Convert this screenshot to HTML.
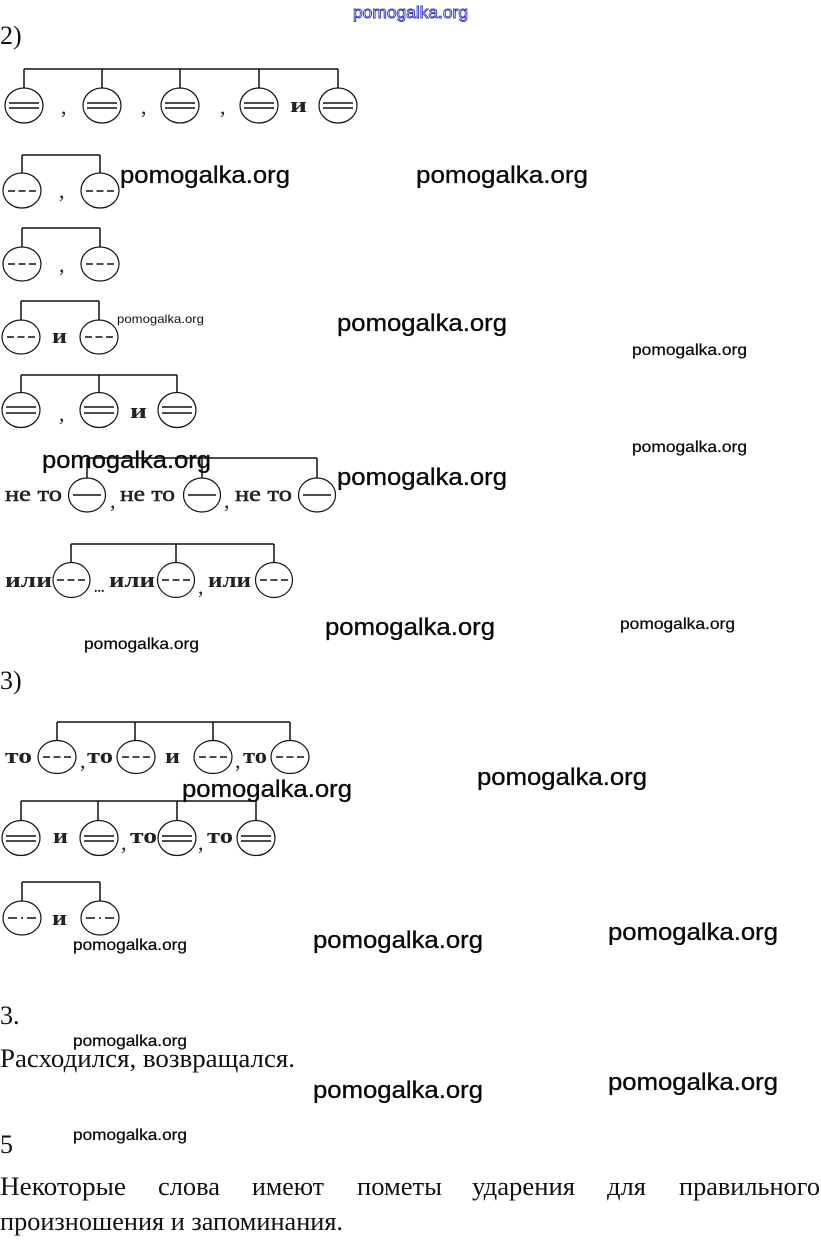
<!DOCTYPE html>
<html>
<head>
<meta charset="utf-8">
<style>
html,body{margin:0;padding:0;background:#fff;}
body{width:821px;height:1240px;overflow:hidden;}
svg{display:block;}
.wl{font-family:"Liberation Sans",sans-serif;font-size:24px;fill:#0a0a0a;stroke:#0a0a0a;stroke-width:0.35;}
.ws{font-family:"Liberation Sans",sans-serif;font-size:16px;fill:#0a0a0a;stroke:#0a0a0a;stroke-width:0.25;}
.wt{font-family:"Liberation Sans",sans-serif;font-size:12px;fill:#111;}
.sr{font-family:"Liberation Serif","Noto Serif CJK SC",serif;font-size:26px;fill:#111;}
.lb{font-family:"Liberation Serif","Noto Serif CJK SC",serif;font-size:22px;font-weight:bold;fill:#222;}
.ln2{font-family:"Liberation Serif","Noto Serif CJK SC",serif;font-size:22px;fill:#222;stroke:#222;stroke-width:0.5;}
.cm{font-family:"Liberation Serif",serif;font-size:22px;fill:#222;}
.ln{stroke:#111;stroke-width:1.5;fill:none;}
.ci{stroke:#111;stroke-width:1.2;fill:none;}
.dbl{stroke:#111;stroke-width:1.6;}
.dsh{stroke:#111;stroke-width:1.4;stroke-dasharray:7 3.5;}
</style>
</head>
<body>
<svg width="821" height="1240" viewBox="0 0 821 1240" xmlns="http://www.w3.org/2000/svg">
<rect width="821" height="1240" fill="#fff"/>

<!-- header -->
<text x="353" y="18" textLength="115" lengthAdjust="spacingAndGlyphs" style="font-family:'Liberation Sans',sans-serif;font-size:17px;fill:#fff;stroke:#3434c8;stroke-width:0.9;">pomogalka.org</text>

<text class="sr" x="0" y="44">2)</text>

<!-- Row 1 -->
<path class="ln" d="M24 69 H338 M24 69 V88 M102 69 V88 M180 69 V88 M259 69 V88 M338 69 V88"/>
<g class="ci">
<ellipse cx="24" cy="105.5" rx="19" ry="17.5"/>
<ellipse cx="102" cy="105.5" rx="19" ry="17.5"/>
<ellipse cx="180" cy="105.5" rx="19" ry="17.5"/>
<ellipse cx="259" cy="105.5" rx="19" ry="17.5"/>
<ellipse cx="338" cy="105.5" rx="19" ry="17.5"/>
</g>
<g class="dbl">
<path d="M9 103 H39 M9 108 H39"/>
<path d="M87 103 H117 M87 108 H117"/>
<path d="M165 103 H195 M165 108 H195"/>
<path d="M244 103 H274 M244 108 H274"/>
<path d="M323 103 H353 M323 108 H353"/>
</g>
<text class="cm" x="61" y="114">,</text>
<text class="cm" x="141" y="114">,</text>
<text class="cm" x="220" y="114">,</text>
<text class="lb" x="290" y="112" textLength="17" lengthAdjust="spacingAndGlyphs">и</text>

<!-- Row 2 -->
<path class="ln" d="M22 155 H100 M22 155 V173 M100 155 V173"/>
<ellipse class="ci" cx="22" cy="190.5" rx="19" ry="17.5"/>
<ellipse class="ci" cx="100" cy="190.5" rx="19" ry="17.5"/>
<path class="dsh" d="M8 191 H37 M86 191 H115"/>
<text class="cm" x="59" y="198">,</text>
<text class="wl" x="120" y="183" textLength="170" lengthAdjust="spacingAndGlyphs">pomogalka.org</text>
<text class="wl" x="416" y="183" textLength="172" lengthAdjust="spacingAndGlyphs">pomogalka.org</text>

<!-- Row 3 -->
<path class="ln" d="M22 228 H100 M22 228 V247 M100 228 V247"/>
<ellipse class="ci" cx="22" cy="264" rx="19" ry="17"/>
<ellipse class="ci" cx="100" cy="264" rx="19" ry="17"/>
<path class="dsh" d="M8 264 H37 M86 264 H115"/>
<text class="cm" x="59" y="272">,</text>

<!-- Row 4 -->
<path class="ln" d="M21 301 H99 M21 301 V320 M99 301 V320"/>
<ellipse class="ci" cx="21" cy="337" rx="19" ry="17"/>
<ellipse class="ci" cx="99" cy="337" rx="19" ry="17"/>
<path class="dsh" d="M7 337 H36 M85 337 H114"/>
<text class="lb" x="52" y="343" textLength="15" lengthAdjust="spacingAndGlyphs">и</text>
<text class="wt" x="117" y="323" textLength="87" lengthAdjust="spacingAndGlyphs">pomogalka.org</text>
<text class="wl" x="337" y="331" textLength="170" lengthAdjust="spacingAndGlyphs">pomogalka.org</text>
<text class="ws" x="632" y="355" textLength="115" lengthAdjust="spacingAndGlyphs">pomogalka.org</text>

<!-- Row 5 -->
<path class="ln" d="M21 375 H177 M21 375 V393 M99 375 V393 M177 375 V393"/>
<ellipse class="ci" cx="21" cy="410" rx="19" ry="17.5"/>
<ellipse class="ci" cx="99" cy="410" rx="19" ry="17.5"/>
<ellipse class="ci" cx="177" cy="410" rx="19" ry="17.5"/>
<g class="dbl">
<path d="M6 407 H36 M6 413 H36"/>
<path d="M84 407 H114 M84 413 H114"/>
<path d="M162 407 H192 M162 413 H192"/>
</g>
<text class="cm" x="59" y="421">,</text>
<text class="lb" x="130" y="418" textLength="17" lengthAdjust="spacingAndGlyphs">и</text>
<text class="ws" x="632" y="452" textLength="115" lengthAdjust="spacingAndGlyphs">pomogalka.org</text>

<!-- Row 6 -->
<path class="ln" d="M87 458 H317 M87 458 V478 M202 458 V478 M317 458 V478"/>
<ellipse class="ci" cx="87" cy="495" rx="18.5" ry="17"/>
<ellipse class="ci" cx="202" cy="495" rx="18.5" ry="17"/>
<ellipse class="ci" cx="317" cy="495" rx="18.5" ry="17"/>
<path class="dbl" d="M73 495 H101 M188 495 H216 M303 495 H331"/>
<text class="ln2" x="5" y="501" textLength="57" lengthAdjust="spacingAndGlyphs">не то</text>
<text class="ln2" x="120" y="501" textLength="55" lengthAdjust="spacingAndGlyphs">не то</text>
<text class="ln2" x="235" y="501" textLength="57" lengthAdjust="spacingAndGlyphs">не то</text>
<text class="cm" x="110" y="508">,</text>
<text class="cm" x="224" y="508">,</text>
<text class="wl" x="42" y="468" textLength="169" lengthAdjust="spacingAndGlyphs">pomogalka.org</text>
<text class="wl" x="337" y="485" textLength="170" lengthAdjust="spacingAndGlyphs">pomogalka.org</text>

<!-- Row 7 -->
<path class="ln" d="M71 544 H274 M71 544 V563 M176 544 V563 M274 544 V563"/>
<ellipse class="ci" cx="71.5" cy="580" rx="18.5" ry="17.5"/>
<ellipse class="ci" cx="176" cy="580" rx="18.5" ry="17.5"/>
<ellipse class="ci" cx="274" cy="580" rx="18.5" ry="17.5"/>
<path class="dsh" d="M57 580 H86 M162 580 H191 M260 580 H289"/>
<text class="lb" x="5" y="587" textLength="47" lengthAdjust="spacingAndGlyphs">или</text>
<text class="lb" x="94" y="592" style="font-size:14px">...</text>
<text class="lb" x="109" y="587" textLength="46" lengthAdjust="spacingAndGlyphs">или</text>
<text class="cm" x="198" y="594">,</text>
<text class="lb" x="208" y="587" textLength="43" lengthAdjust="spacingAndGlyphs">или</text>
<text class="wl" x="325" y="635" textLength="170" lengthAdjust="spacingAndGlyphs">pomogalka.org</text>
<text class="ws" x="84" y="649" textLength="115" lengthAdjust="spacingAndGlyphs">pomogalka.org</text>
<text class="ws" x="620" y="629" textLength="115" lengthAdjust="spacingAndGlyphs">pomogalka.org</text>

<text class="sr" x="0" y="689">3)</text>

<!-- Row 8 -->
<path class="ln" d="M57 722 H290 M57 722 V741 M135 722 V741 M213 722 V741 M290 722 V741"/>
<ellipse class="ci" cx="57" cy="757" rx="19" ry="16.5"/>
<ellipse class="ci" cx="136" cy="757" rx="19" ry="16.5"/>
<ellipse class="ci" cx="213" cy="757" rx="19" ry="16.5"/>
<ellipse class="ci" cx="290" cy="757" rx="19" ry="16.5"/>
<path class="dsh" d="M43 757 H72 M122 757 H151 M199 757 H228 M276 757 H305"/>
<text class="lb" x="5" y="763" textLength="27" lengthAdjust="spacingAndGlyphs">то</text>
<text class="cm" x="80" y="768">,</text>
<text class="lb" x="87" y="763" textLength="26" lengthAdjust="spacingAndGlyphs">то</text>
<text class="lb" x="165" y="763" textLength="15" lengthAdjust="spacingAndGlyphs">и</text>
<text class="cm" x="235" y="768">,</text>
<text class="lb" x="243" y="763" textLength="24" lengthAdjust="spacingAndGlyphs">то</text>
<text class="wl" x="477" y="785" textLength="170" lengthAdjust="spacingAndGlyphs">pomogalka.org</text>

<!-- Row 9 -->
<path class="ln" d="M21 801 H256 M21 801 V820 M98 801 V820 M177 801 V820 M256 801 V820"/>
<ellipse class="ci" cx="21" cy="838" rx="19" ry="17.5"/>
<ellipse class="ci" cx="99" cy="838" rx="19" ry="17.5"/>
<ellipse class="ci" cx="177" cy="838" rx="19" ry="17.5"/>
<ellipse class="ci" cx="256" cy="838" rx="19" ry="17.5"/>
<g class="dbl">
<path d="M6 836 H36 M6 841 H36"/>
<path d="M84 836 H114 M84 841 H114"/>
<path d="M162 836 H192 M162 841 H192"/>
<path d="M241 836 H271 M241 841 H271"/>
</g>
<text class="lb" x="53" y="843" textLength="15" lengthAdjust="spacingAndGlyphs">и</text>
<text class="cm" x="121" y="850">,</text>
<text class="lb" x="130" y="843" textLength="27" lengthAdjust="spacingAndGlyphs">то</text>
<text class="cm" x="198" y="850">,</text>
<text class="lb" x="207" y="843" textLength="26" lengthAdjust="spacingAndGlyphs">то</text>
<text class="wl" x="182" y="797" textLength="170" lengthAdjust="spacingAndGlyphs">pomogalka.org</text>

<!-- Row 10 -->
<path class="ln" d="M22 882 H100 M22 882 V901 M100 882 V901"/>
<ellipse class="ci" cx="22" cy="918" rx="19" ry="17"/>
<ellipse class="ci" cx="100" cy="918" rx="19" ry="17"/>
<path style="stroke:#111;stroke-width:1.4" d="M8 918 H17 M21 918 H23 M27 918 H36 M86 918 H95 M99 918 H101 M105 918 H114"/>
<text class="lb" x="52" y="925" textLength="15" lengthAdjust="spacingAndGlyphs">и</text>
<text class="ws" x="73" y="950" textLength="114" lengthAdjust="spacingAndGlyphs">pomogalka.org</text>
<text class="wl" x="313" y="948" textLength="170" lengthAdjust="spacingAndGlyphs">pomogalka.org</text>
<text class="wl" x="608" y="940" textLength="170" lengthAdjust="spacingAndGlyphs">pomogalka.org</text>

<!-- bottom text -->
<text class="sr" x="0" y="1024">3.</text>
<text class="ws" x="73" y="1046" textLength="114" lengthAdjust="spacingAndGlyphs">pomogalka.org</text>
<text class="sr" x="0" y="1067" textLength="295" lengthAdjust="spacingAndGlyphs">Расходился, возвращался.</text>
<text class="wl" x="313" y="1098" textLength="170" lengthAdjust="spacingAndGlyphs">pomogalka.org</text>
<text class="wl" x="608" y="1090" textLength="170" lengthAdjust="spacingAndGlyphs">pomogalka.org</text>
<text class="sr" x="0" y="1153">5</text>
<text class="ws" x="73" y="1140" textLength="114" lengthAdjust="spacingAndGlyphs">pomogalka.org</text>

<text class="sr" x="0" y="1195" textLength="126" lengthAdjust="spacingAndGlyphs">Некоторые</text>
<text class="sr" x="158" y="1195" textLength="62" lengthAdjust="spacingAndGlyphs">слова</text>
<text class="sr" x="252" y="1195" textLength="72" lengthAdjust="spacingAndGlyphs">имеют</text>
<text class="sr" x="357" y="1195" textLength="85" lengthAdjust="spacingAndGlyphs">пометы</text>
<text class="sr" x="472" y="1195" textLength="103" lengthAdjust="spacingAndGlyphs">ударения</text>
<text class="sr" x="607" y="1195" textLength="39" lengthAdjust="spacingAndGlyphs">для</text>
<text class="sr" x="679" y="1195" textLength="141" lengthAdjust="spacingAndGlyphs">правильного</text>
<text class="sr" x="0" y="1230" textLength="343" lengthAdjust="spacingAndGlyphs">произношения и запоминания.</text>
</svg>
</body>
</html>
